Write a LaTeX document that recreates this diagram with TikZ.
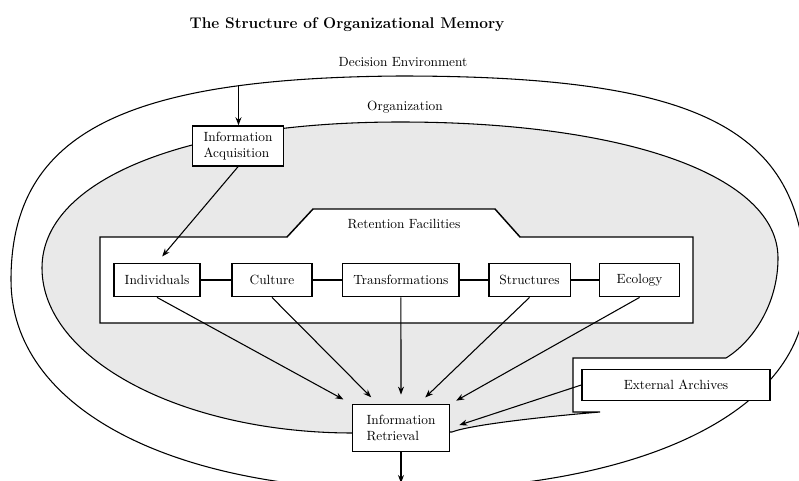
\documentclass[tikz,border=0pt]{standalone}
\usetikzlibrary{positioning,arrows.meta}

\begin{document}
\begin{tikzpicture}[
  x=0.75pt, y=-0.75pt,
  >={Stealth[length=6pt,width=4.5pt]},
  block/.style = {
    draw,
    shape=rectangle,
    line width=1.1pt,
    fill=white,
    minimum width=60pt,
    minimum height=25pt,
    inner xsep=8pt,
    font=\fontsize{10}{12}\selectfont
  },
  bigblock/.style = {
    block,
    align=left,
    minimum width=68pt,
    minimum height=30pt
  },
  region/.style = {line width=0.8pt},
  link/.style = {->, line width=0.8pt, shorten >=7pt},
  %label/.style = {font=\small},
]
  \useasboundingbox (0,0) rectangle (799,481);
  \clip (0,0) rectangle (799,481);

  % decision environment
  \draw[region]
    (400,76) .. controls (705,76) and (806,130) .. (806,290)
    .. controls (806,410) and (644,490) .. (400,490)
    .. controls (167,490) and (11,406) .. (11,280)
    .. controls (11,130) and (130,78) .. (400,76) coordinate[pos=0.772] (envtop) -- cycle;

  % organization
  \draw[region, fill=gray!17]
    (400,122) .. controls (627,122) and (778,176) .. (778,258)
    .. controls (778,305) and (752,342) .. (726,358)
    -- (573,358) -- (573,412) -- (600,412)
    .. controls (540,417) and (470,425) .. (452,432)
    -- (353,433)
    .. controls (182,433) and (42,359) .. (42,268)
    .. controls (42,180) and (185,122) .. (400,122) -- cycle;

  % retention facilities
  \draw[line width=1.1pt, fill=white]
    (100,237) -- (287,237) -- (313,209) -- (495,209) -- (520,237)
    -- (693,237) -- (693,323) -- (100,323) -- cycle;

  \node (title) at (347,25) {\fontsize{11.6}{13}\selectfont\bfseries The Structure of Organizational Memory};
  \node (envlabel) at (403,62) {Decision Environment};
  \node (orglabel) at (405,107) {Organization};
  \node (retlabel) at (404,224) {Retention Facilities};

  \node (acq)[bigblock] at (238,146) {Information\\Acquisition};
  \node (ind)[block] at (157,280) {Individuals};
  \node (cul)[
    right of=ind,
    block,
    xshift=20.3mm
  ] {Culture};
  \node (tra)[
    right of=cul,
    block,
    xshift=24mm
  ] {Transformations};
  \node (str)[
    right of=tra,
    block,
    xshift=23.9mm
  ] {Structures};
  \node (eco)[
    right of=str,
    block,
    xshift=19mm
  ] {Ecology};
  \node (ret)[
    bigblock,
    minimum width=73pt,
    minimum height=35pt
  ] at (401,428) {Information\\Retrieval};
  \node (arch)[
    block,
    minimum width=141pt,
    minimum height=23pt
  ] at (676,385) {External Archives};

  \coordinate (out) at (401,483);

  \draw[line width=1.1pt] (ind) -- (cul) -- (tra) -- (str) -- (eco);

  \draw[->, line width=0.8pt] (envtop) -- (envtop |- acq.north);
  \draw[link, shorten >=6pt] (acq.south) -- (ind.north);
  \draw[link] (ind.south) -- (ret.north west);
  \draw[link] (cul.south) -- (ret.134);
  \draw[link] (tra.south) -- (ret.north);
  \draw[link] (str.south) -- (ret.54);
  \draw[link, shorten >=5pt] (eco.south) -- (ret.north east);
  \draw[link] (arch.west) -- (ret.east);
  \draw[->, line width=0.8pt] (ret.south) -- (out);
\end{tikzpicture}
\end{document}
